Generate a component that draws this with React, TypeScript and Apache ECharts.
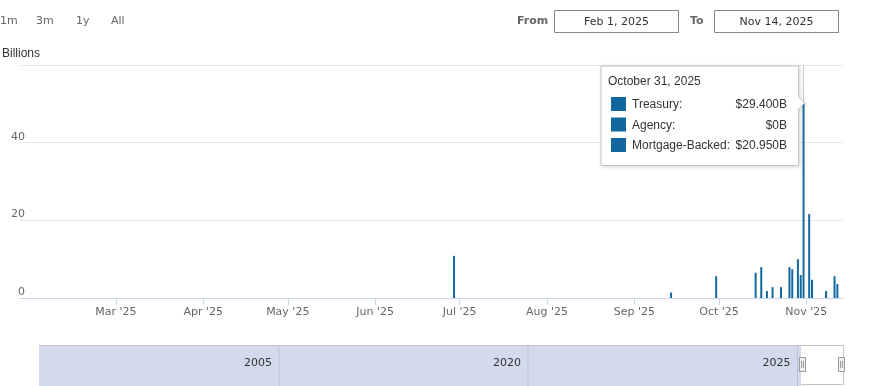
import React, { useEffect, useRef } from "react";
import * as echarts from "echarts";

// ---- data ----
const DATES = [
  "2025-06-29", "2025-09-14", "2025-09-30", "2025-10-14", "2025-10-16", "2025-10-18",
  "2025-10-20", "2025-10-23", "2025-10-26", "2025-10-27", "2025-10-29", "2025-10-30",
  "2025-10-31", "2025-11-02", "2025-11-03", "2025-11-08", "2025-11-11", "2025-11-12",
];
const TREASURY = [10.85, 1.4, 5.6, 6.5, 7.95, 1.8, 2.8, 2.8, 7.95, 7.4, 10, 5.9, 29.4, 21.6, 4.7, 1.8, 5.6, 3.6];
const AGENCY = [0, 0, 0, 0, 0, 0, 0, 0, 0, 0, 0, 0, 0, 0, 0, 0, 0, 0];
const MORTGAGE = [0, 0, 0, 0, 0, 0, 0, 0, 0, 0, 0, 0, 20.95, 0, 0, 0, 0, 0];
const SERIES_NAMES = ["Treasury", "Agency", "Mortgage-Backed"];
const MONTH_TICKS = [
  "2025-03-01", "2025-04-01", "2025-05-01", "2025-06-01", "2025-07-01",
  "2025-08-01", "2025-09-01", "2025-10-01", "2025-11-01",
];
const MONTH_SHORT = ["Jan", "Feb", "Mar", "Apr", "May", "Jun", "Jul", "Aug", "Sep", "Oct", "Nov", "Dec"];
const MONTH_LONG = ["January", "February", "March", "April", "May", "June", "July", "August", "September", "October", "November", "December"];
const AXIS_MIN = "2025-01-26";
const AXIS_MAX = "2025-11-14";
const Y_MAX = 60;
const Y_INTERVAL = 20;
const TOOLTIP_DATE = "2025-10-31";
const RANGE_BUTTONS = ["1m", "3m", "1y", "All"];
const FROM_DATE = "Feb 1, 2025";
const TO_DATE = "Nov 14, 2025";
const NAV_YEARS = ["2005", "2020", "2025"];
const UNIT_TITLE = "Billions";

const BAR_COLOR = "#12689c";
const SANS = '"DejaVu Sans", Verdana, sans-serif';
const ARIAL = '"Liberation Sans", Arial, sans-serif';

function ts(s: string) {
  const [y, m, d] = s.split("-").map(Number);
  return new Date(y, m - 1, d).getTime();
}

export default function App() {
  const ref = useRef<HTMLDivElement>(null);

  useEffect(() => {
    if (!ref.current) return;
    const chart = echarts.init(ref.current, undefined, { renderer: "svg" });
    const values = [TREASURY, AGENCY, MORTGAGE];
    const tipIdx = DATES.indexOf(TOOLTIP_DATE);
    const tipT = ts(TOOLTIP_DATE);
    const tipTotal = values.reduce((s, arr) => s + arr[tipIdx], 0);
    const tipDate = new Date(tipT);
    const tipTitle = `${MONTH_LONG[tipDate.getMonth()]} ${tipDate.getDate()}, ${tipDate.getFullYear()}`;
    const fmt = (v: number) => (v === 0 ? "$0B" : `$${v.toFixed(3)}B`);
    const tickVals = MONTH_TICKS.map(ts);

    // value first, date second, so that the stack is computed on the value (y) dimension
    const series = SERIES_NAMES.map((name, i) => ({
      name,
      type: "bar",
      stack: "total",
      barWidth: 2,
      encode: { x: 1, y: 0 },
      itemStyle: { color: BAR_COLOR },
      data: DATES.map((d, j) => [values[i][j], ts(d)]),
      markLine:
        i === 0
          ? {
              silent: true,
              symbol: ["none", "none"],
              label: { show: false },
              lineStyle: { color: "#cccccc", type: "solid", width: 1 },
              data: [[{ coord: [tipT, tipTotal] }, { coord: [tipT, Y_MAX] }]],
            }
          : undefined,
    }));

    const BTN_X = [0, 36, 76, 111];
    const navTop = 345;
    const navBottom = 386;
    const navLeft = 39;
    const selL = 801;
    const selR = 843;
    const navLines = [279, 528, 797.5];
    const rowY = [104, 124.5, 145];
    const TZ = 100;

    const handle = (cx: number) => ({
      type: "group",
      children: [
        { type: "rect", shape: { x: cx - 3, y: 357.5, width: 6, height: 14 }, style: { fill: "#f2f2f2", stroke: "#999", lineWidth: 1 } },
        { type: "line", shape: { x1: cx - 1, y1: 361, x2: cx - 1, y2: 368 }, style: { stroke: "#999", lineWidth: 1 } },
        { type: "line", shape: { x1: cx + 1, y1: 361, x2: cx + 1, y2: 368 }, style: { stroke: "#999", lineWidth: 1 } },
      ],
    });

    const graphic: any[] = [
      { type: "text", x: 2, y: 53, style: { text: UNIT_TITLE, font: `12px ${ARIAL}`, fill: "#333", verticalAlign: "middle" } },
      ...RANGE_BUTTONS.map((b, i) => ({
        type: "text", x: BTN_X[i], y: 20,
        style: { text: b, font: `11px ${SANS}`, fill: "#666", verticalAlign: "middle" },
      })),
      { type: "text", x: 517, y: 20, style: { text: "From", font: `bold 11px ${SANS}`, fill: "#666", verticalAlign: "middle" } },
      { type: "rect", shape: { x: 554.5, y: 10.5, width: 124, height: 22 }, style: { fill: "#fff", stroke: "#888", lineWidth: 1 } },
      { type: "text", x: 616.5, y: 21, style: { text: FROM_DATE, font: `11px ${SANS}`, fill: "#333", align: "center", verticalAlign: "middle" } },
      { type: "text", x: 690, y: 20, style: { text: "To", font: `bold 11px ${SANS}`, fill: "#666", verticalAlign: "middle" } },
      { type: "rect", shape: { x: 714.5, y: 10.5, width: 124, height: 22 }, style: { fill: "#fff", stroke: "#888", lineWidth: 1 } },
      { type: "text", x: 776.5, y: 21, style: { text: TO_DATE, font: `11px ${SANS}`, fill: "#333", align: "center", verticalAlign: "middle" } },
      // navigator
      { type: "rect", shape: { x: navLeft, y: navTop, width: selL - navLeft, height: navBottom - navTop }, style: { fill: "#d3daed" } },
      ...navLines.map((x) => ({ type: "line", shape: { x1: x, y1: navTop, x2: x, y2: navBottom }, style: { stroke: "#b9c1d6", lineWidth: 1 } })),
      ...NAV_YEARS.map((yr, i) => ({
        type: "text", x: navLines[i] - 7, y: 362,
        style: { text: yr, font: `11px ${SANS}`, fill: "#333", align: "right", verticalAlign: "middle" },
      })),
      { type: "polyline", shape: { points: [[navLeft, navTop + 0.5], [selR + 0.5, navTop + 0.5], [selR + 0.5, 384.5], [selL, 384.5]] }, style: { stroke: "#c4c4c4", lineWidth: 1, fill: "none" } },
      handle(802.5),
      handle(841.5),
      // tooltip
      {
        type: "polygon",
        z: TZ,
        shape: { points: [[601, 66], [798.5, 66], [798.5, 97], [804.5, 103], [798.5, 109], [798.5, 165.5], [601, 165.5]] },
        style: { fill: "rgba(255,255,255,0.97)", stroke: "#c4c4c4", lineWidth: 1, shadowBlur: 4, shadowColor: "rgba(0,0,0,0.18)", shadowOffsetX: 1, shadowOffsetY: 1 },
      },
      { type: "text", z: TZ + 1, x: 608, y: 80.5, style: { text: tipTitle, font: `12px ${ARIAL}`, fill: "#333", verticalAlign: "middle" } },
      ...SERIES_NAMES.flatMap((name, i) => [
        { type: "rect", z: TZ + 1, shape: { x: 611, y: rowY[i] - 7, width: 15, height: 14 }, style: { fill: BAR_COLOR } },
        { type: "text", z: TZ + 1, x: 632, y: rowY[i], style: { text: `${name}:`, font: `12px ${ARIAL}`, fill: "#333", verticalAlign: "middle" } },
        { type: "text", z: TZ + 1, x: 787, y: rowY[i], style: { text: fmt(values[i][tipIdx]), font: `12px ${ARIAL}`, fill: "#333", align: "right", verticalAlign: "middle" } },
      ]),
    ];

    chart.setOption({
      animation: false,
      grid: { left: 20, right: 29, top: 65, bottom: 88 },
      xAxis: {
        type: "value",
        min: ts(AXIS_MIN),
        max: ts(AXIS_MAX),
        axisLine: { lineStyle: { color: "#ccd6eb" } },
        axisTick: { customValues: tickVals, length: 7, lineStyle: { color: "#ccd6eb" } },
        axisLabel: {
          customValues: tickVals,
          color: "#666",
          fontSize: 11,
          fontFamily: SANS,
          margin: 8,
          formatter: (v: number) => {
            const d = new Date(v);
            return `${MONTH_SHORT[d.getMonth()]} '${String(d.getFullYear()).slice(2)}`;
          },
        },
        splitLine: { show: false },
      },
      yAxis: {
        type: "value",
        min: 0,
        max: Y_MAX,
        interval: Y_INTERVAL,
        axisLine: { show: false },
        axisTick: { show: false },
        splitLine: { lineStyle: { color: "#e6e6e6" } },
        axisLabel: {
          showMaxLabel: false,
          color: "#666",
          fontSize: 11,
          fontFamily: SANS,
          align: "right",
          verticalAlign: "bottom",
          margin: -5,
          padding: [0, 0, 1, 0],
        },
      },
      series,
      graphic,
    });
    return () => chart.dispose();
  }, []);

  return <div ref={ref} style={{ position: "fixed", left: 0, top: 0, width: 872, height: 386 }} />;
}
